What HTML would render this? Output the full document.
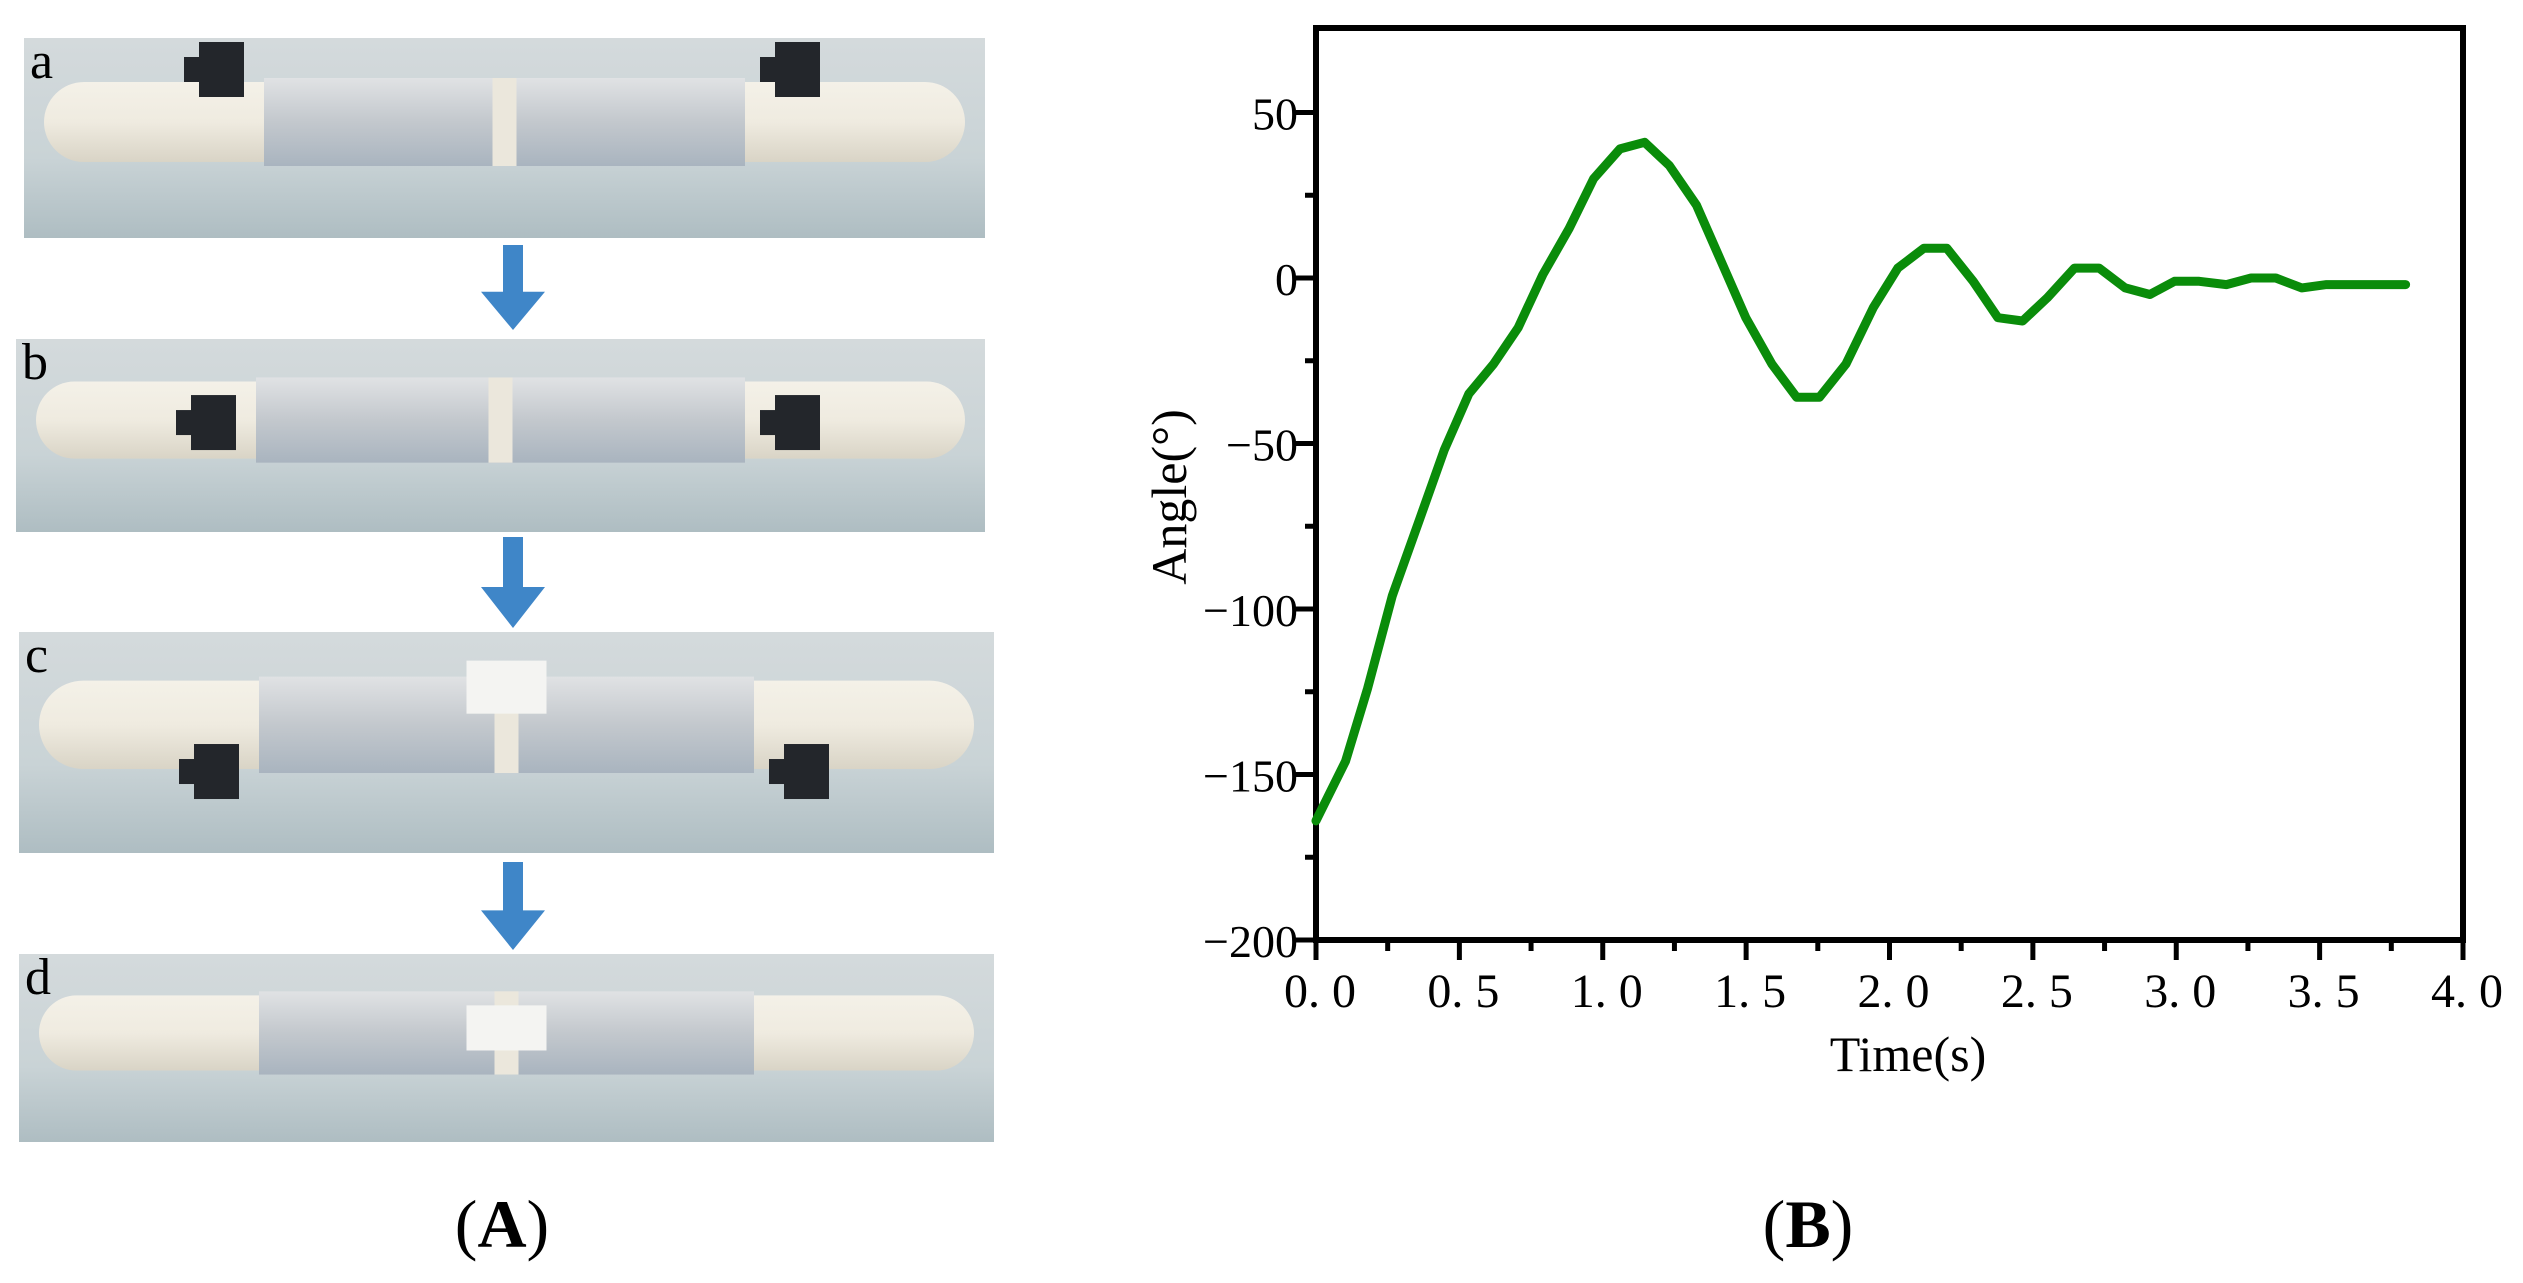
<!DOCTYPE html>
<html><head><meta charset="utf-8"><style>
html,body{margin:0;padding:0;background:#fff;width:2523px;height:1283px;overflow:hidden}
svg{display:block}
text{font-family:"Liberation Serif",serif}
</style></head><body>
<svg id="fig" width="2523" height="1283" viewBox="0 0 2523 1283" xmlns="http://www.w3.org/2000/svg">
<defs>
<linearGradient id="bg" x1="0" y1="0" x2="0" y2="1"><stop offset="0" stop-color="#d4dadc"/><stop offset="0.6" stop-color="#c9d3d6"/><stop offset="1" stop-color="#aebdc2"/></linearGradient>
<linearGradient id="body" x1="0" y1="0" x2="0" y2="1"><stop offset="0" stop-color="#f4f1e8"/><stop offset="0.5" stop-color="#efebe0"/><stop offset="1" stop-color="#d9d4c6"/></linearGradient>
<linearGradient id="foil" x1="0" y1="0" x2="0" y2="1"><stop offset="0" stop-color="#e0e2e4"/><stop offset="0.5" stop-color="#c3c8cd"/><stop offset="1" stop-color="#a9b4bf"/></linearGradient>
</defs>
<g id="panelA"></g>
<text x="502" y="1247" text-anchor="middle" font-size="68" font-weight="bold"><tspan font-weight="normal">(</tspan>A<tspan font-weight="normal">)</tspan></text>
<g id="chart"></g>
<text x="1808" y="1247" text-anchor="middle" font-size="68" font-weight="bold"><tspan font-weight="normal">(</tspan>B<tspan font-weight="normal">)</tspan></text>
</svg>
<script>
// ---- chart data ----
const times = [0,0.103,0.18,0.266,0.361,0.447,0.533,0.619,0.705,0.791,0.883,0.968,1.06,1.146,1.232,1.327,1.413,1.499,1.59,1.676,1.756,1.848,1.943,2.029,2.12,2.2,2.292,2.378,2.464,2.55,2.645,2.731,2.822,2.908,2.994,3.08,3.175,3.261,3.347,3.438,3.524,3.66,3.8];
const angles = [-164,-146,-124,-96,-73,-52,-35,-26,-15,1,15,30,39,41,34,22,5,-12,-26,-36,-36,-26,-9,3,9,9,-1,-12,-13,-6,3,3,-3,-5,-1,-1,-2,0,0,-3,-2,-2,-2];
const xTicks = [0,0.5,1.0,1.5,2.0,2.5,3.0,3.5,4.0];
const xTickLabels = ["0. 0","0. 5","1. 0","1. 5","2. 0","2. 5","3. 0","3. 5","4. 0"];
const yTicks = [50,0,-50,-100,-150,-200];
const yTickLabels = ["50","0","\u221250","\u2212100","\u2212150","\u2212200"];

const NS="http://www.w3.org/2000/svg";
function mk(tag,attrs,parent){const e=document.createElementNS(NS,tag);for(const k in attrs)e.setAttribute(k,attrs[k]);parent.appendChild(e);return e;}
const L=1316,R=2463,T=28,B=940;
const X=t=>L+(t-0)/(4-0)*(R-L);
const Y=v=>B-(v+200)/(250)*(B-112.5);
const chart=document.getElementById('chart');

let fr=mk('rect',{x:L,y:T,width:R-L,height:B-T,fill:'none',stroke:'#000','stroke-width':6},chart);



for(let v=-175;v<75;v+=50){let m=mk('line',{x1:L-11,x2:L,y1:Y(v),y2:Y(v),stroke:'#000','stroke-width':5},chart);

}
for(let t=0.25;t<4;t+=0.5){let m=mk('line',{x1:X(t),x2:X(t),y1:B,y2:B+11,stroke:'#000','stroke-width':5},chart);

}

yTicks.forEach((v,i)=>{
 let tk=mk('line',{x1:L-20,x2:L,y1:Y(v),y2:Y(v),stroke:'#000','stroke-width':5},chart);
 
 
 let tx=mk('text',{x:L-18,y:Y(v)+17,'text-anchor':'end','font-size':46},chart);
 tx.textContent=yTickLabels[i];
 
 
});
xTicks.forEach((t,i)=>{
 let tk=mk('line',{x1:X(t),x2:X(t),y1:B,y2:B+20,stroke:'#000','stroke-width':5},chart);
 
 
 let tx=mk('text',{x:X(t)+4,y:1007,'text-anchor':'middle','font-size':48},chart);
 tx.setAttribute('style','white-space:pre');
 tx.textContent=xTickLabels[i];
 
 
});
let xt=mk('text',{x:1908,y:1071,'text-anchor':'middle','font-size':50},chart);
xt.textContent='Time(s)';


let yt=mk('text',{x:0,y:0,'text-anchor':'middle','font-size':50,transform:'translate(1186,497) rotate(-90)'},chart);
yt.textContent='Angle(\u00b0)';



let d=times.map((t,i)=>(i?'L':'M')+X(t).toFixed(1)+','+Y(angles[i]).toFixed(1)).join(' ');
let ln=mk('path',{d:d,fill:'none',stroke:'#0a8c0a','stroke-width':9,'stroke-linejoin':'round','stroke-linecap':'round'},chart);



// ---- panel A photos (stylized) ----
const pa=document.getElementById('panelA');
const photos=[{y:38,h:200,x:24,w:961,l:'a',mot:'top'},{y:339,h:193,x:16,w:969,l:'b',mot:'mid'},{y:632,h:221,x:19,w:975,l:'c',mot:'low'},{y:954,h:188,x:19,w:975,l:'d',mot:'none'}];
photos.forEach((p,i)=>{
 let g=mk('g',{},pa);
 
 
 mk('rect',{x:p.x,y:p.y,width:p.w,height:p.h,fill:'url(#bg)'},g);
 const cy=p.y+p.h*0.42, bh=p.h*0.4;
 mk('rect',{x:p.x+20,y:cy-bh/2,width:p.w-40,height:bh,rx:bh/2,fill:'url(#body)'},g);
 mk('rect',{x:p.x+240,y:cy-bh/2-4,width:p.w-480,height:bh+8,fill:'url(#foil)'},g);
 mk('rect',{x:p.x+p.w/2-12,y:cy-bh/2-4,width:24,height:bh+8,fill:'#ebe7dc'},g);
 if(p.l==='c'||p.l==='d') mk('rect',{x:p.x+p.w/2-40,y:cy-bh/2-(p.l==='c'?20:-10),width:80,height:bh*0.6,fill:'#f4f4f2'},g);
 if(p.mot!=='none'){
  const my=p.mot==='top'?cy-bh/2-15:(p.mot==='mid'?cy:cy+bh/2);
  [p.x+175,p.x+p.w-210].forEach(mx=>{mk('rect',{x:mx,y:my-25,width:45,height:55,fill:'#23262b'},g);mk('rect',{x:mx-15,y:my-10,width:20,height:25,fill:'#23262b'},g);});
 }
 let lt=mk('text',{x:p.x+6,y:p.y+40,'font-size':52},g);
 lt.textContent=p.l;
 
 
});
[[245,330],[537,628],[862,950]].forEach(a=>{
 let ar=mk('path',{d:`M503,${a[0]} h20 v${(a[1]-a[0])*0.55} h22 l-32,${(a[1]-a[0])*0.45} l-32,-${(a[1]-a[0])*0.45} h22 z`,fill:'#3f86c8'},pa);
 
 
});
</script>
</body></html>
